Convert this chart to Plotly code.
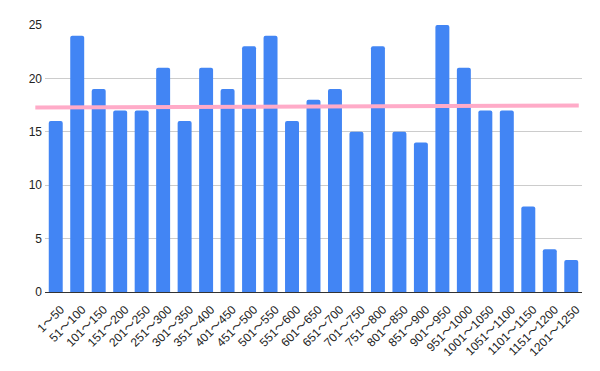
import plotly.graph_objects as go

categories = ["1～50", "51～100", "101～150", "151～200", "201～250", "251～300",
              "301～350", "351～400", "401～450", "451～500", "501～550", "551～600",
              "601～650", "651～700", "701～750", "751～800", "801～850", "851～900",
              "901～950", "951～1000", "1001～1050", "1051～1100", "1101～1150",
              "1151～1200", "1201～1250"]
counts = [16, 24, 19, 17, 17, 21, 16, 21, 19, 23, 24, 16, 18, 19, 15, 23, 15, 14,
          25, 21, 17, 17, 8, 4, 3]
avg_start = 17.28
avg_end = 17.46
y_ticks = [0, 5, 10, 15, 20, 25]

fig = go.Figure()
fig.add_trace(go.Bar(x=categories, y=counts, marker=dict(color="#4285F4", line=dict(width=0))))

fig.add_shape(type="line", xref="paper", yref="y", x0=-0.018, x1=0.994,
              y0=avg_start, y1=avg_end, line=dict(color="#FFABC8", width=4), layer="above")

fig.update_layout(
    width=600, height=371,
    margin=dict(l=45, r=18, t=25, b=79),
    plot_bgcolor="white", paper_bgcolor="white",
    bargap=0.35, barcornerradius=2,
    showlegend=False,
    font=dict(family="Liberation Sans, Arial, Noto Sans CJK JP, sans-serif", size=12, color="#222222"),
    xaxis=dict(tickangle=-45, showgrid=False, showline=True, linecolor="#333333", linewidth=1,
               ticks="", automargin=False, ticklabelshift=5, ticklabelstandoff=5,
               tickfont=dict(size=12, color="#222222")),
    yaxis=dict(range=[0, 25], tickvals=y_ticks, showgrid=True, gridcolor="#cccccc", gridwidth=1,
               zeroline=False, showline=False, ticks="", automargin=False, ticklabelstandoff=2,
               tickfont=dict(size=12, color="#222222")),
)

fig.write_html("out.html", config={"displayModeBar": False},
               post_script="document.body.style.margin='0';document.body.style.overflow='hidden';")
